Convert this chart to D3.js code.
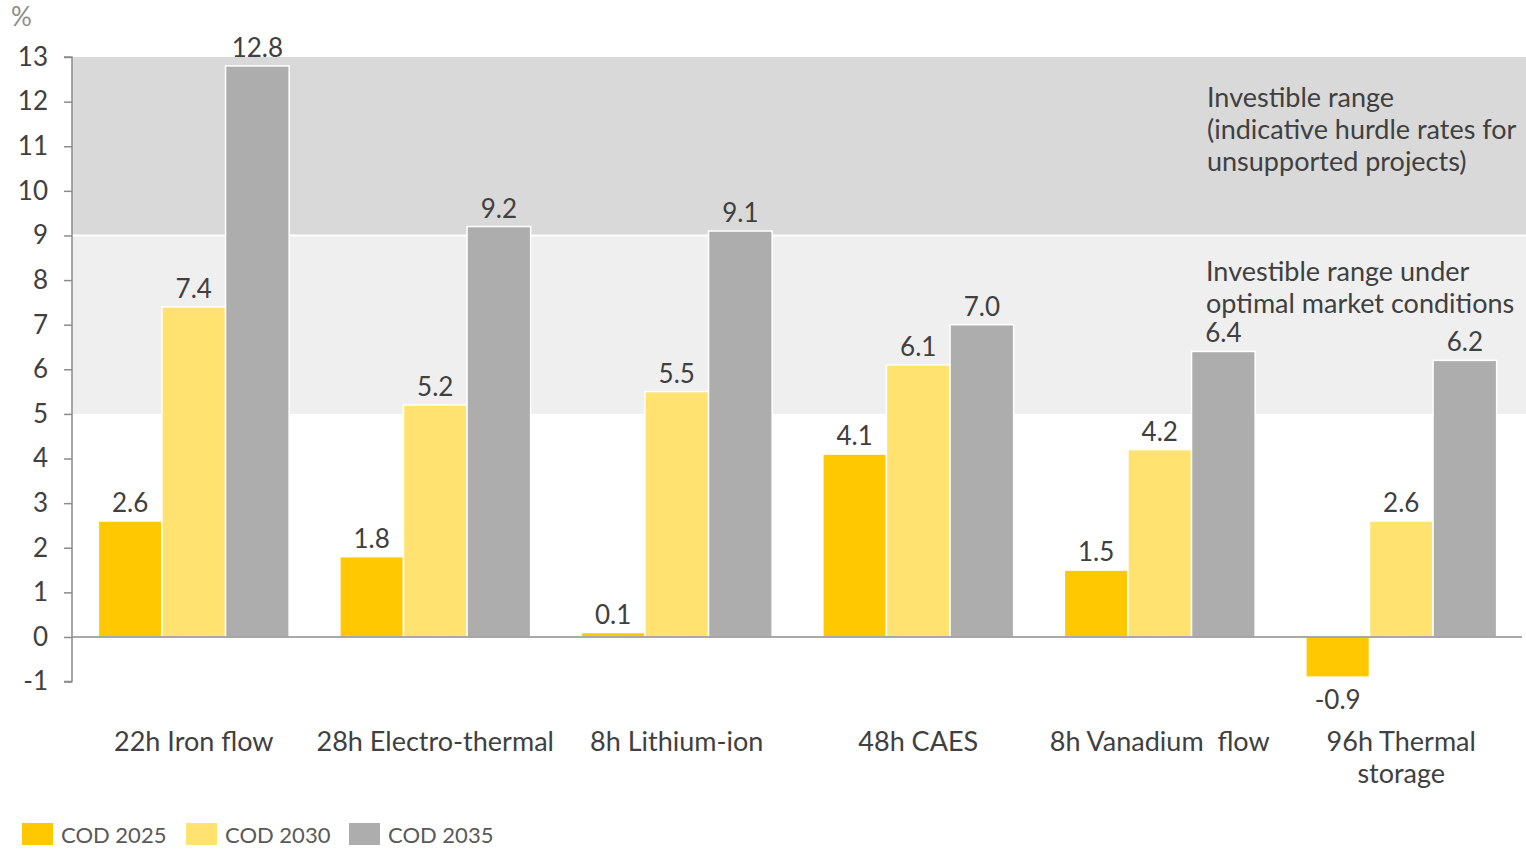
<!DOCTYPE html>
<html>
<head>
<meta charset="utf-8">
<script src="https://cdn.jsdelivr.net/npm/d3@7"></script>
<style>
  body { margin: 0; background: #fff; }
  text { font-family: Lato, "Open Sans", sans-serif; }
</style>
</head>
<body>
<div id="root"></div>
<script>
// data
const categories = ["22h Iron flow", "28h Electro-thermal", "8h Lithium-ion", "48h CAES", "8h Vanadium  flow", "96h Thermal storage"];
const seriesNames = ["COD 2025", "COD 2030", "COD 2035"];
const cod2025 = [2.6, 1.8, 0.1, 4.1, 1.5, -0.9];
const cod2030 = [7.4, 5.2, 5.5, 6.1, 4.2, 2.6];
const cod2035 = [12.8, 9.2, 9.1, 7.0, 6.4, 6.2];
const yTicks = [-1, 0, 1, 2, 3, 4, 5, 6, 7, 8, 9, 10, 11, 12, 13];
const bands = [{ from: 9, to: 13 }, { from: 5, to: 9 }];

const W = 1526, H = 849;
const plotLeft = 72, plotRight = 1522, plotTop = 57, plotBottom = 681.6;

const colors = ["#FFC800", "#FFE270", "#ADADAD"];
const bandColors = ["#D9D9D9", "#EFEFEF"];

const svg = d3.select('#root').append('svg')
  .attr('width', W).attr('height', H);

const y = d3.scaleLinear().domain([-1, 13]).range([plotBottom, plotTop]);
const x = d3.scaleBand().domain(categories).range([plotLeft + 1, plotRight]).paddingInner(0.21).paddingOuter(0.105);
const xs = d3.scaleBand().domain(seriesNames).range([0, x.bandwidth()]);

// shaded ranges
svg.selectAll('rect.band').data(bands).enter().append('rect')
  .attr('x', plotLeft).attr('width', W - plotLeft)
  .attr('y', d => y(d.to))
  .attr('height', d => y(d.from) - y(d.to))
  .style('fill', (d, i) => bandColors[i]);
svg.append('line')
  .attr('x1', plotLeft).attr('x2', W).attr('y1', y(9)).attr('y2', y(9))
  .style('stroke', '#fff').style('stroke-width', 2);

// annotations
const note1 = ["Investible range", "(indicative hurdle rates for", "unsupported projects)"];
const note2 = ["Investible range under", "optimal market conditions"];
svg.append('text').attr('x', 1207).attr('y', 107)
  .style('font-size', '27px').style('fill', '#404040')
  .selectAll('tspan').data(note1).enter().append('tspan')
  .attr('x', 1207).attr('dy', (d, i) => i ? 32 : 0).text(d => d);
svg.append('text').attr('x', 1206).attr('y', 281)
  .style('font-size', '27px').style('fill', '#404040')
  .selectAll('tspan').data(note2).enter().append('tspan')
  .attr('x', 1206).attr('dy', (d, i) => i ? 32 : 0).text(d => d);

// bars
const rows = categories.map((c, i) => ({ cat: c, vals: [cod2025[i], cod2030[i], cod2035[i]] }));
const g = svg.selectAll('g.grp').data(rows).enter().append('g')
  .attr('transform', d => `translate(${x(d.cat)},0)`);

g.selectAll('rect').data(d => d.vals.map((v, j) => ({ v, s: seriesNames[j], j })))
  .enter().append('rect')
  .attr('x', d => xs(d.s))
  .attr('width', xs.bandwidth())
  .attr('y', d => y(Math.max(0, d.v)))
  .attr('height', d => Math.abs(y(d.v) - y(0)))
  .style('fill', d => colors[d.j])
  .style('stroke', '#fff').style('stroke-width', 1.5);

g.selectAll('text.val').data(d => d.vals.map((v, j) => ({ v, s: seriesNames[j] })))
  .enter().append('text')
  .attr('x', d => xs(d.s) + xs.bandwidth() / 2)
  .attr('y', d => d.v >= 0 ? y(d.v) - 9 : y(d.v) + 32)
  .attr('text-anchor', 'middle')
  .style('font-size', '26px').style('fill', '#404040')
  .text(d => d.v.toFixed(1));

// y axis
const yAxis = svg.append('g').attr('transform', `translate(${plotLeft},0)`)
  .call(d3.axisLeft(y).tickValues(yTicks).tickSize(8).tickPadding(16).tickFormat(d => String(d)));
yAxis.select('.domain').style('stroke', '#8c8c8c').style('stroke-width', 1.5).attr('d', `M-8,${y(13)}H0V${y(-1)}H-8`);
yAxis.selectAll('.tick line').style('stroke', '#8c8c8c').style('stroke-width', 1.5);
yAxis.selectAll('.tick text').style('font-size', '26px').style('fill', '#404040')
  .style('font-family', 'Lato, sans-serif');

// zero line
svg.append('line')
  .attr('x1', plotLeft).attr('x2', plotRight).attr('y1', y(0)).attr('y2', y(0))
  .style('stroke', '#8c8c8c').style('stroke-width', 1.5);

svg.append('text').attr('x', 11).attr('y', 26).style('font-size', '26px').style('fill', '#8c8c8c').text('%');

// category labels
const catLabels = {"96h Thermal storage": ["96h Thermal", "storage"]};
svg.selectAll('text.cat').data(categories).enter().append('text')
  .attr('x', d => x(d) + x.bandwidth() / 2)
  .attr('y', 751)
  .attr('text-anchor', 'middle')
  .style('font-size', '27px').style('fill', '#404040')
  .style('white-space', 'pre')
  .each(function (d) {
    const lines = catLabels[d] || [d];
    d3.select(this).selectAll('tspan').data(lines).enter().append('tspan')
      .attr('x', x(d) + x.bandwidth() / 2)
      .attr('dy', (l, i) => i ? 32 : 0).text(l => l);
  });

// legend
const legX = [22, 186, 349];
const leg = svg.selectAll('g.leg').data(seriesNames).enter().append('g')
  .attr('transform', (d, i) => `translate(${legX[i]},823)`);
leg.append('rect').attr('width', 31).attr('height', 22).style('fill', (d, i) => colors[i]);
leg.append('text').attr('x', 39).attr('y', 20)
  .style('font-size', '22px').style('fill', '#595959').text(d => d);
</script>
</body>
</html>
